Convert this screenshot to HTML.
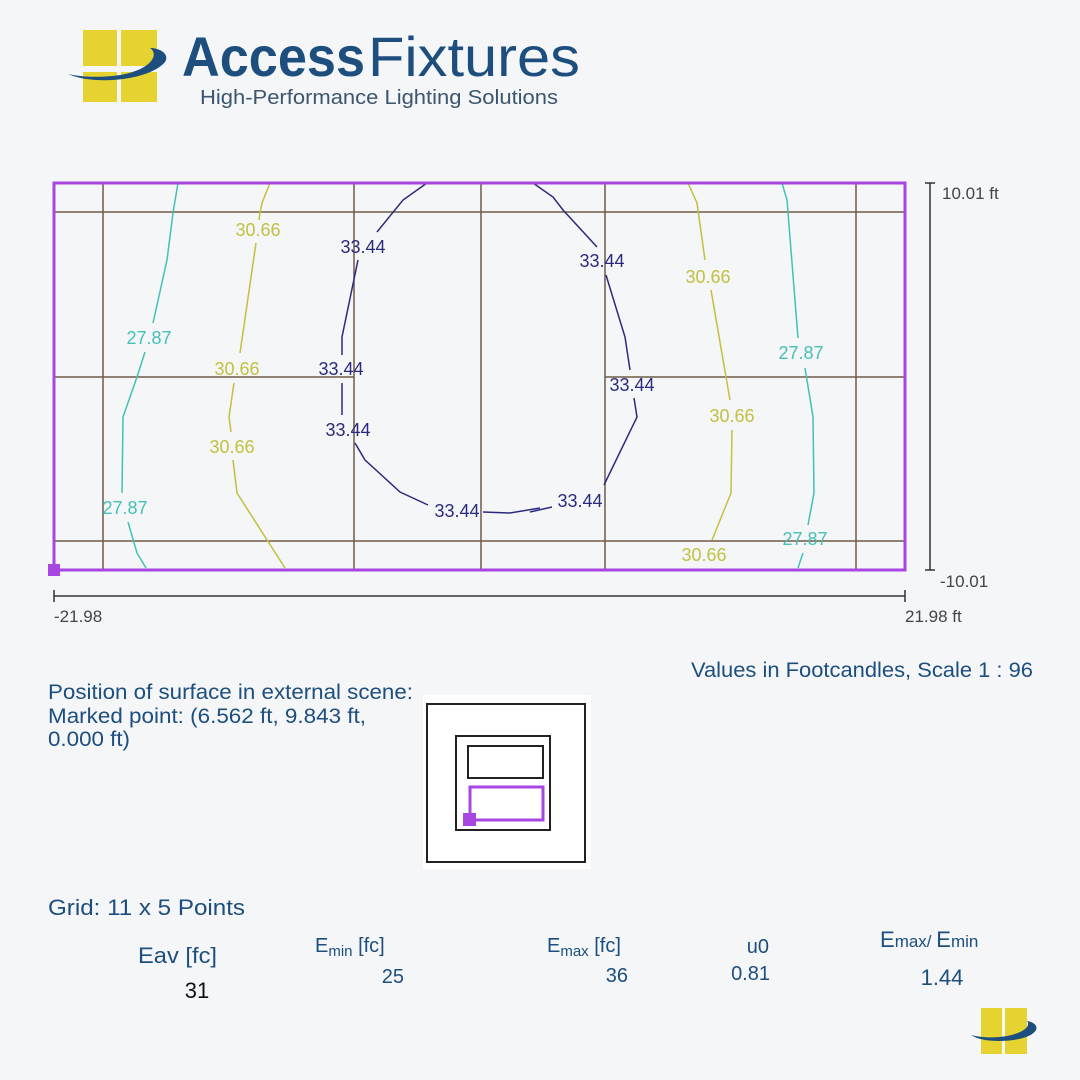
<!DOCTYPE html>
<html><head><meta charset="utf-8"><style>
html,body{margin:0;padding:0;background:#f4f6f8;}
svg{display:block;}
text{font-family:"Liberation Sans",Arial,sans-serif;}
</style></head><body>
<svg width="1080" height="1080" viewBox="0 0 1080 1080" xmlns="http://www.w3.org/2000/svg">
<rect width="1080" height="1080" fill="#f4f6f8"/>
<!-- Logo -->
<g fill="#e6d332">
<rect x="83" y="30" width="34" height="36"/>
<rect x="121" y="30" width="36" height="36"/>
<rect x="83" y="72" width="34" height="30"/>
<rect x="121" y="72" width="36" height="30"/>
</g>
<path d="M68,74 C95,86 150,80 165,62 C170,54 160,48 150,48 C160,55 150,70 120,75 C100,78 80,77 68,74 Z" fill="#1d4e7e"/>
<text x="182" y="76" font-size="56" font-weight="bold" fill="#1d4e7e" textLength="183" lengthAdjust="spacingAndGlyphs">Access</text>
<text x="368" y="76" font-size="56" fill="#1d4e7e" textLength="212" lengthAdjust="spacingAndGlyphs">Fixtures</text>
<text x="200" y="104" font-size="20" fill="#3d556e" textLength="358" lengthAdjust="spacingAndGlyphs">High-Performance Lighting Solutions</text>

<!-- Grid -->
<g stroke="#6e5a45" stroke-width="1.5" fill="none">
<line x1="103" y1="183" x2="103" y2="570"/>
<line x1="354" y1="183" x2="354" y2="570"/>
<line x1="481" y1="183" x2="481" y2="570"/>
<line x1="605" y1="183" x2="605" y2="570"/>
<line x1="856" y1="183" x2="856" y2="570"/>
<line x1="54" y1="212" x2="905" y2="212"/>
<line x1="54" y1="541" x2="905" y2="541"/>
<line x1="54" y1="377" x2="354" y2="377"/>
<line x1="605" y1="377" x2="905" y2="377"/>
</g>
<!-- Contours -->
<g fill="none" stroke-width="1.5">
<g stroke="#45c0b5">
<polyline points="178,183 173,213 167,260 153,323"/>
<polyline points="145,352 137,377 123,417 122,493"/>
<polyline points="128,522 137,553 146,568"/>
<polyline points="782,183 787,200 798,338"/>
<polyline points="805,368 813,417 814,493 808,525"/>
<polyline points="803,553 798,568"/>
</g>
<g stroke="#c2c140">
<polyline points="270,183 262,203 260,213 259,220"/>
<polyline points="256,243 240,353"/>
<polyline points="234,383 229,417 231,432"/>
<polyline points="233,460 237,493 285,568"/>
<polyline points="688,183 697,203 705,260"/>
<polyline points="711,290 730,400"/>
<polyline points="732,430 731,493 712,540"/>
</g>
<g stroke="#2c2a7e">
<polyline points="427,183 403,200 377,232"/>
<polyline points="358,260 342,337 342,355"/>
<polyline points="342,383 342,415"/>
<polyline points="355,443 365,460 400,492 428,505"/>
<polyline points="483,512 510,513 540,508"/>
<polyline points="533,183 553,197 563,210 597,247"/>
<polyline points="606,275 625,337 630,370"/>
<polyline points="634,398 637,417 604,485"/>
<polyline points="552,507 530,512"/>
</g>
</g>
<g font-size="18" text-anchor="middle">
<g fill="#45c0b5">
<text x="149" y="344">27.87</text>
<text x="125" y="514">27.87</text>
<text x="801" y="359">27.87</text>
<text x="805" y="545">27.87</text>
</g>
<g fill="#c2c140">
<text x="258" y="236">30.66</text>
<text x="237" y="375">30.66</text>
<text x="232" y="453">30.66</text>
<text x="708" y="283">30.66</text>
<text x="732" y="422">30.66</text>
<text x="704" y="561">30.66</text>
</g>
<g fill="#2c2a7e">
<text x="363" y="253">33.44</text>
<text x="341" y="375">33.44</text>
<text x="348" y="436">33.44</text>
<text x="457" y="517">33.44</text>
<text x="602" y="267">33.44</text>
<text x="632" y="391">33.44</text>
<text x="580" y="507">33.44</text>
</g>
</g>
<!-- outline -->
<rect x="54" y="183" width="851" height="387" fill="none" stroke="#a846e2" stroke-width="3"/>
<rect x="48" y="564" width="12" height="12" fill="#a846e2"/>
<!-- axes -->
<g stroke="#333" stroke-width="1.5">
<line x1="930" y1="183" x2="930" y2="570"/>
<line x1="925" y1="183" x2="935" y2="183"/>
<line x1="925" y1="570" x2="935" y2="570"/>
<line x1="54" y1="596" x2="905" y2="596"/>
<line x1="54" y1="590" x2="54" y2="602"/>
<line x1="905" y1="590" x2="905" y2="602"/>
</g>
<g font-size="17" fill="#444">
<text x="942" y="199">10.01 ft</text>
<text x="940" y="587">-10.01</text>
<text x="54" y="622">-21.98</text>
<text x="905" y="622">21.98 ft</text>
</g>
<!-- text -->
<g fill="#1d4e7e">
<text x="691" y="677" font-size="21" textLength="342" lengthAdjust="spacingAndGlyphs">Values in Footcandles, Scale 1 : 96</text>
<text x="48" y="699" font-size="21" textLength="365" lengthAdjust="spacingAndGlyphs">Position of surface in external scene:</text>
<text x="48" y="723" font-size="21" textLength="318" lengthAdjust="spacingAndGlyphs">Marked point: (6.562 ft, 9.843 ft,</text>
<text x="48" y="746" font-size="21" textLength="82" lengthAdjust="spacingAndGlyphs">0.000 ft)</text>
<text x="48" y="915" font-size="22" textLength="197" lengthAdjust="spacingAndGlyphs">Grid: 11 x 5 Points</text>
<text x="138" y="963" font-size="22" textLength="79" lengthAdjust="spacingAndGlyphs">Eav [fc]</text>
<text x="315" y="952" font-size="20">E<tspan font-size="15" dy="4">min</tspan><tspan dy="-4"> [fc]</tspan></text>
<text x="404" y="983" font-size="20" text-anchor="end">25</text>
<text x="547" y="952" font-size="20">E<tspan font-size="15" dy="4">max</tspan><tspan dy="-4"> [fc]</tspan></text>
<text x="628" y="982" font-size="20" text-anchor="end">36</text>
<text x="769" y="953" font-size="20" text-anchor="end">u0</text>
<text x="770" y="980" font-size="20" text-anchor="end">0.81</text>
<text x="880" y="947" font-size="22">E<tspan font-size="17">max/ </tspan>E<tspan font-size="17">min</tspan></text>
<text x="942" y="985" font-size="22" text-anchor="middle">1.44</text>
</g>
<text x="197" y="998" font-size="22" fill="#111" text-anchor="middle">31</text>
<!-- inset -->
<rect x="423" y="695" width="168" height="174" fill="#fff"/>
<g fill="none" stroke="#222" stroke-width="2">
<rect x="427" y="704" width="158" height="158"/>
<rect x="456" y="736" width="94" height="94"/>
<rect x="468" y="746" width="75" height="32"/>
</g>
<rect x="470" y="787" width="73" height="33" fill="none" stroke="#a846e2" stroke-width="3"/>
<rect x="463" y="813" width="13" height="13" fill="#a846e2"/>
<!-- small logo -->
<g fill="#e6d332">
<rect x="981" y="1008" width="21" height="46"/>
<rect x="1005" y="1008" width="22" height="46"/>
</g>
<path d="M971,1035 C985,1045 1030,1042 1036,1030 C1038,1025 1033,1022 1027,1021 C1032,1027 1020,1035 1000,1037 C990,1038 978,1037 971,1035 Z" fill="#1d4e7e"/>
</svg>
</body></html>
